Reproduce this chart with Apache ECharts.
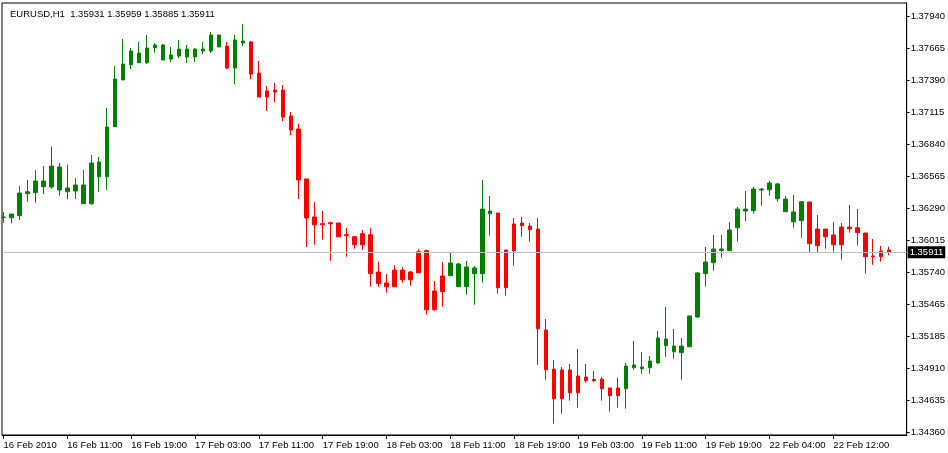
<!DOCTYPE html>
<html>
<head>
<meta charset="utf-8">
<script src="https://cdn.jsdelivr.net/npm/echarts@6/dist/echarts.min.js"></script>
<style>
html,body{margin:0;padding:0;background:#fff;}
#c{width:948px;height:453px;}
</style>
</head>
<body>
<div id="c"></div>
<script>
const chartTitle = 'EURUSD,H1  1.35931 1.35959 1.35885 1.35911';
const lastPrice = 1.35911;
const xTickLabels = ['16 Feb 2010','16 Feb 11:00','16 Feb 19:00','17 Feb 03:00','17 Feb 11:00','17 Feb 19:00','18 Feb 03:00','18 Feb 11:00','18 Feb 19:00','19 Feb 03:00','19 Feb 11:00','19 Feb 19:00','22 Feb 04:00','22 Feb 12:00'];
const barsPerTick = 8;
const yTickLabels = [1.34360,1.34635,1.34910,1.35185,1.35465,1.35740,1.36015,1.36290,1.36565,1.36840,1.37115,1.37390,1.37665,1.37940];

const opens = [1.36210,1.36208,1.36226,1.36415,1.36424,1.36475,1.36473,1.36447,1.36432,1.36438,
1.36329,1.36329,1.36561,1.36561,1.36992,1.37394,1.37525,1.37542,1.37542,1.37672,
1.37566,1.37574,1.37600,1.37592,1.37592,1.37643,1.37643,1.37678,1.37686,1.37497,
1.37712,1.37721,1.37454,1.37299,1.37307,1.37307,1.37084,1.36972,1.36542,1.36215,
1.36157,1.36165,1.36163,1.36062,1.36045,1.36071,1.36062,1.35741,1.35647,1.35758,
1.35758,1.35741,1.35916,1.35925,1.35578,1.35707,1.35709,1.35615,1.35615,1.35727,
1.35727,1.36243,1.36249,1.35931,1.36154,1.36163,1.36137,1.36111,1.35242,1.34906,
1.34898,1.34898,1.34846,1.34838,1.34818,1.34820,1.34743,1.34743,1.34737,1.34918,
1.34909,1.34918,1.34958,1.35107,1.35055,1.35047,1.35098,1.35354,1.35727,1.35821,
1.35925,1.35925,1.36122,1.36266,1.36269,1.36447,1.36449,1.36372,1.36260,1.36174,
1.36183,1.36344,1.36111,1.36111,1.36060,1.36128,1.36128,1.36122,1.36077,1.35879,
1.35922,1.35931];
const closes = [1.36215,1.36240,1.36421,1.36432,1.36524,1.36524,1.36653,1.36645,1.36464,1.36490,
1.36490,1.36679,1.36688,1.36989,1.37402,1.37531,1.37643,1.37626,1.37669,1.37695,
1.37695,1.37609,1.37660,1.37660,1.37660,1.37660,1.37781,1.37781,1.37497,1.37738,
1.37729,1.37445,1.37247,1.37247,1.37290,1.37075,1.36963,1.36533,1.36206,1.36148,
1.36148,1.36157,1.36045,1.36054,1.35976,1.35976,1.35727,1.35641,1.35615,1.35615,
1.35675,1.35675,1.35735,1.35417,1.35417,1.35572,1.35819,1.35810,1.35784,1.35776,
1.36283,1.36266,1.35606,1.35606,1.35925,1.36140,1.36105,1.35253,1.34900,1.34651,
1.34651,1.34702,1.34702,1.34806,1.34806,1.34737,1.34677,1.34677,1.34932,1.34941,
1.34924,1.34975,1.35173,1.35165,1.35104,1.35104,1.35363,1.35733,1.35827,1.35939,
1.35939,1.36103,1.36283,1.36283,1.36455,1.36455,1.36507,1.36499,1.36369,1.36258,
1.36346,1.35985,1.35968,1.36045,1.35976,1.35976,1.36114,1.36081,1.35873,1.35873,
1.35873,1.35911];
const lows = [1.36165,1.36160,1.36189,1.36346,1.36338,1.36412,1.36458,1.36398,1.36369,1.36369,
1.36329,1.36320,1.36430,1.36447,1.36992,1.37394,1.37488,1.37542,1.37531,1.37629,
1.37566,1.37548,1.37583,1.37540,1.37548,1.37617,1.37626,1.37678,1.37488,1.37359,
1.37686,1.37402,1.37247,1.37127,1.37204,1.37041,1.36920,1.36369,1.35956,1.35976,
1.36019,1.35838,1.36045,1.35873,1.35942,1.35931,1.35615,1.35615,1.35563,1.35615,
1.35649,1.35623,1.35735,1.35374,1.35408,1.35443,1.35709,1.35615,1.35546,1.35460,
1.35649,1.36054,1.35554,1.35537,1.35795,1.36045,1.36002,1.34943,1.34814,1.34436,
1.34522,1.34634,1.34573,1.34789,1.34797,1.34634,1.34539,1.34573,1.34565,1.34900,
1.34866,1.34866,1.34952,1.35012,1.34995,1.34814,1.35098,1.35348,1.35615,1.35752,
1.35864,1.35925,1.36002,1.36180,1.36243,1.36312,1.36398,1.36346,1.36260,1.36122,
1.36036,1.35907,1.35907,1.35942,1.35916,1.35847,1.36081,1.35968,1.35727,1.35804,
1.35830,1.35885];
const highs = [1.36258,1.36240,1.36481,1.36533,1.36619,1.36653,1.36820,1.36679,1.36665,1.36550,
1.36619,1.36748,1.36731,1.37153,1.37514,1.37746,1.37669,1.37721,1.37781,1.37712,
1.37703,1.37678,1.37738,1.37695,1.37669,1.37721,1.37807,1.37781,1.37721,1.37781,
1.37875,1.37729,1.37557,1.37342,1.37368,1.37350,1.37118,1.37015,1.36542,1.36344,
1.36266,1.36174,1.36163,1.36120,1.36045,1.36103,1.36122,1.35830,1.35724,1.35801,
1.35784,1.35750,1.35942,1.35933,1.35664,1.35827,1.35913,1.35819,1.35836,1.35793,
1.36533,1.36395,1.36249,1.35931,1.36206,1.36215,1.36163,1.36206,1.35337,1.34984,
1.34924,1.34949,1.35079,1.34949,1.34889,1.34838,1.34743,1.34832,1.34958,1.35147,
1.35053,1.35018,1.35233,1.35440,1.35251,1.35173,1.35363,1.35741,1.35956,1.36060,
1.36060,1.36171,1.36301,1.36438,1.36473,1.36464,1.36524,1.36507,1.36395,1.36404,
1.36352,1.36344,1.36232,1.36111,1.36171,1.36163,1.36318,1.36283,1.36077,1.36025,
1.35965,1.35959];

const FONT = '"Liberation Sans", Arial, sans-serif';
const candleData = opens.map((o, i) => [i, o, closes[i], lows[i], highs[i]]);
const xTickValues = xTickLabels.map((_, i) => i * barsPerTick);

const chart = echarts.init(document.getElementById('c'), null, {renderer: 'canvas'});
chart.setOption({
  animation: false,
  backgroundColor: '#ffffff',
  title: {
    text: chartTitle,
    left: 5, top: 4,
    textStyle: {fontFamily: FONT, fontSize: 9.5, fontWeight: 'normal', color: '#000'}
  },
  grid: {
    left: 2, right: 39, top: 3, bottom: 18,
    show: true, borderColor: '#000', borderWidth: 1, backgroundColor: 'transparent'
  },
  xAxis: {
    type: 'value',
    min: -0.1875, max: 113.1875,
    splitLine: {show: false},
    axisLine: {show: true, onZero: false, lineStyle: {color: '#000', width: 1}},
    axisTick: {show: true, length: 4, customValues: xTickValues, lineStyle: {color: '#000'}},
    axisLabel: {
      customValues: xTickValues,
      align: 'left', margin: 5,
      fontFamily: FONT, fontSize: 9.5, color: '#000',
      formatter: v => xTickLabels[Math.round(v / barsPerTick)] || ''
    }
  },
  yAxis: {
    type: 'value', position: 'right', scale: true,
    min: 1.343385, max: 1.380562,
    splitLine: {show: false},
    axisLine: {show: true, onZero: false, lineStyle: {color: '#000', width: 1}},
    axisTick: {show: true, length: 3, customValues: yTickLabels, lineStyle: {color: '#000'}},
    axisLabel: {
      customValues: yTickLabels,
      margin: 4,
      fontFamily: FONT, fontSize: 9.5, color: '#000',
      formatter: v => v.toFixed(5)
    }
  },
  series: [{
    type: 'candlestick',
    data: candleData,
    encode: {x: 0, y: [1, 2, 3, 4]},
    barWidth: 4,
    clip: true,
    itemStyle: {
      color: '#008000', color0: '#ff0000',
      borderColor: '#008000', borderColor0: '#ff0000', borderWidth: 1
    },
    markLine: {
      silent: true,
      precision: 5,
      symbol: ['none', 'none'],
      lineStyle: {color: '#c0c0c0', type: 'solid', width: 1},
      label: {
        show: true, position: 'end', distance: 1,
        backgroundColor: '#000', color: '#fff',
        padding: [1, 2, 1, 2],
        fontFamily: FONT, fontSize: 9.5,
        formatter: () => lastPrice.toFixed(5)
      },
      data: [{yAxis: lastPrice}]
    }
  }]
});
</script>
</body>
</html>
